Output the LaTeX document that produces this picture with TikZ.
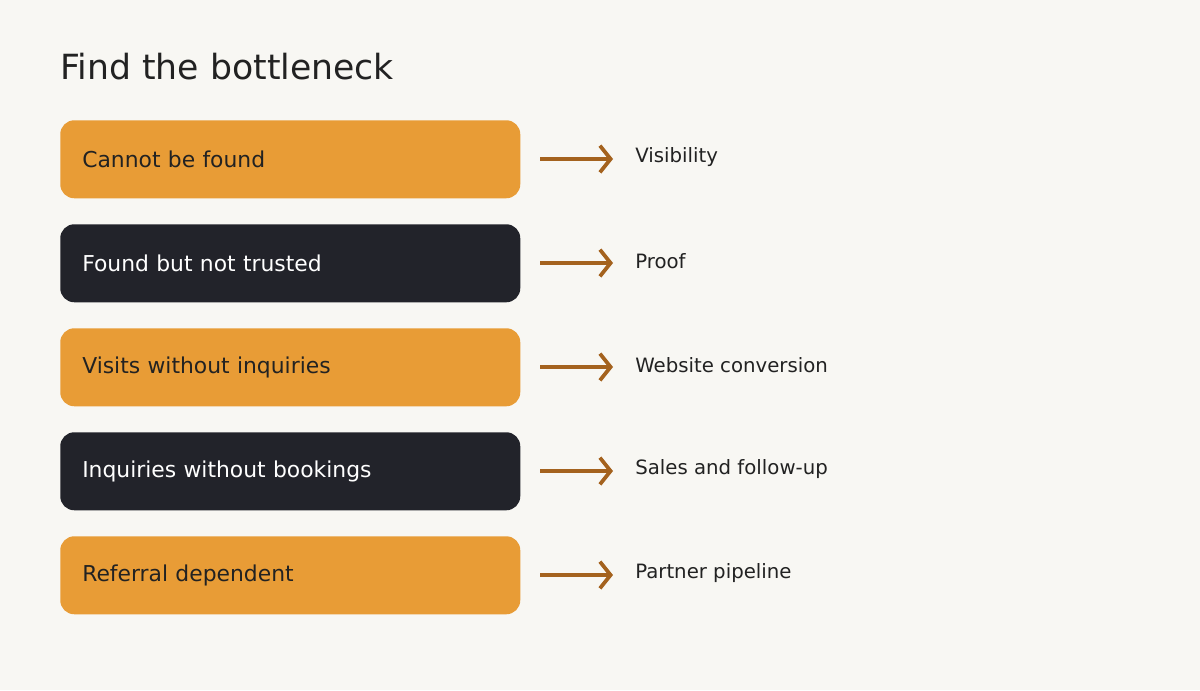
\documentclass[tikz,border=0pt]{standalone}
\usepackage{fontspec}
\setmainfont{DejaVu Sans}
\usetikzlibrary{arrows.meta}
\definecolor{bg}{HTML}{F8F7F3}
\definecolor{org}{HTML}{E89C36}
\definecolor{drk}{HTML}{22232A}
\definecolor{arr}{HTML}{A4621E}
\definecolor{txt}{HTML}{222222}
\begin{document}
\begin{tikzpicture}[x=0.75pt,y=-0.75pt,
 box/.style={rounded corners=10.5pt,minimum width=345pt,minimum height=58.5pt,inner xsep=16.5pt,inner ysep=0pt,anchor=north west,text width=312pt,align=left,font=\fontsize{16.4}{19}\selectfont},
 ob/.style={box,fill=org,text=txt},
 db/.style={box,fill=drk,text=white},
 lab/.style={anchor=west,font=\fontsize{14.8}{17}\selectfont,text=txt,inner sep=0pt},
 ar/.style={draw=arr,line width=3pt,-{Straight Barb[length=8pt,width=20pt,line width=2.8pt]}}]
\fill[bg] (0,0) rectangle (1200,690);
\useasboundingbox (0,0) rectangle (1200,690);
\node[anchor=west,inner sep=0pt,font=\fontsize{26}{30}\selectfont,text=txt] (t) at (60,67) {Find the bottleneck};
\foreach \i/\s/\a/\b in {0/ob/Cannot be found/Visibility,1/db/Found but not trusted/Proof,2/ob/Visits without inquiries/Website conversion,3/db/Inquiries without bookings/Sales and follow-up,4/ob/Referral dependent/Partner pipeline}{
 \node[\s] (b\i) at (60,120+104*\i) {\a};
 \coordinate (s\i) at (540,159+104*\i);
 \coordinate (e\i) at (613,159+104*\i);
 \draw[ar] (s\i) -- (e\i);
 \node[lab] (l\i) at (635,157+104*\i) {\b};
}
\end{tikzpicture}
\end{document}
